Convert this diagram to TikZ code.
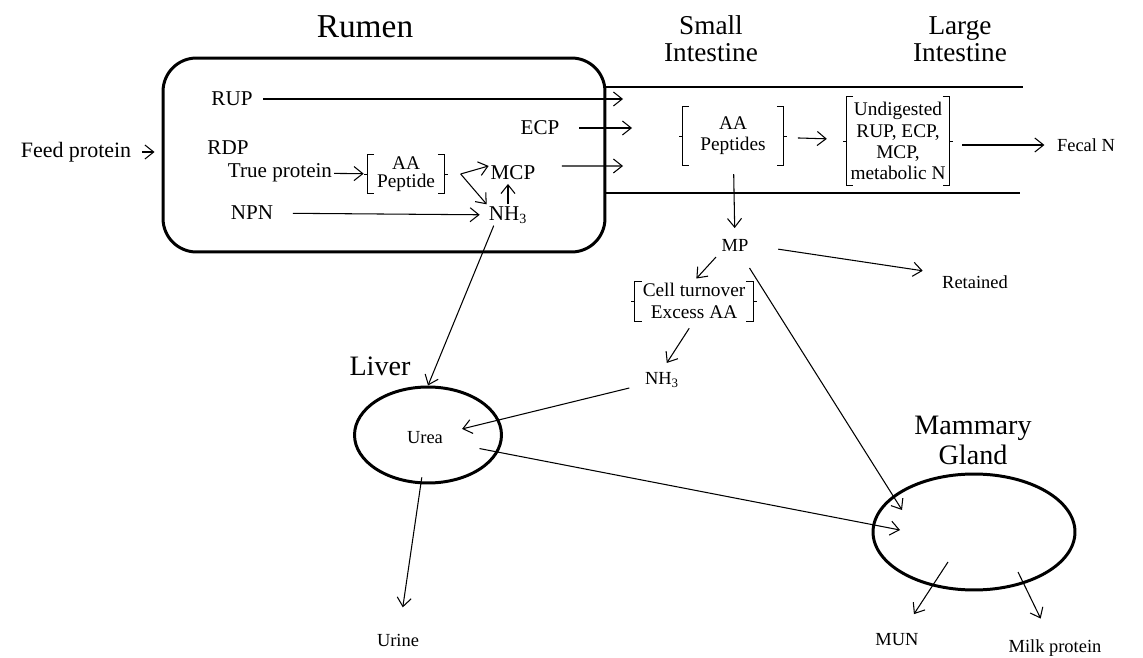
\documentclass[tikz,border=0pt]{standalone}
\usepackage{fontspec}
\setmainfont{Liberation Serif}
\usetikzlibrary{arrows.meta,shapes.geometric}

% square brackets round a node
\newcommand{\bracketsof}[1]{%
  \draw ([xshift=4pt]#1.north west) -- (#1.north west) -- (#1.south west) -- ([xshift=4pt]#1.south west)
        ([xshift=-4pt]#1.north east) -- (#1.north east) -- (#1.south east) -- ([xshift=-4pt]#1.south east)
        (#1.west) -- ++(-2pt,0) (#1.east) -- ++(2pt,0);}

\begin{document}
\begin{tikzpicture}[x=0.02cm,y=-0.02cm,thin,
    >={Straight Barb[length=5pt,width=8pt]},
    every node/.style={inner sep=1pt},
    txt/.style={font=\fontsize{12}{13}\selectfont},
    sm/.style={font=\fontsize{10.5}{12}\selectfont},
    ttl/.style={font=\fontsize{15.5}{15.5}\selectfont,align=center},
    brak/.style={align=center,font=\fontsize{11}{12}\selectfont},
    organ/.style={ellipse,draw,line width=1.7pt},
    con/.style={->,line width=0.6pt}]

    \useasboundingbox (0,0) rectangle (1143,658);

    % Titles
    \node[ttl,font=\fontsize{19}{20}\selectfont] (rumen) at (365,27) {Rumen};
    \node[ttl] (small) at (711,39) {Small\\Intestine};
    \node[ttl] (large) at (960,39) {Large\\Intestine};

    % Rumen
    \node[draw,line width=1.7pt,rounded corners=19pt,minimum width=8.84cm,minimum height=3.88cm] (rumenbox) at (384,155) {};
    \node[txt,font=\fontsize{12.5}{13}\selectfont] (feed) at (76,152) {Feed protein};
    \node[txt] (rup) at (232,99) {RUP};
    \node[txt] (rdp) at (228,148) {RDP};
    \node[txt] (ecp) at (540,128) {ECP};
    \node[txt] (true) at (280,173) {True protein};
    \node[brak,font=\fontsize{11}{10.5}\selectfont,minimum width=1.54cm,minimum height=0.76cm] (aa) at (406,174) {AA\\Peptide};
    \node[txt] (mcp) at (513,173) {MCP};
    \node[txt] (npn) at (252,213) {NPN};
    \node[txt] (nh3) at (508,215) {NH\textsubscript{3}};
    \bracketsof{aa}

    % Intestine walls
    \draw[line width=0.6pt] (605,87) -- (1023,87);
    \draw[line width=0.6pt] (605,193) -- (1020,193);

    % Intestine
    \node[brak,minimum width=2.02cm,minimum height=1.16cm] (aap) at (733,136) {AA\\Peptides};
    \node[brak,minimum width=2.06cm,minimum height=1.76cm] (undig) at (898,141) {Undigested\\RUP, ECP,\\MCP,\\metabolic N};
    \node[sm] (fecal) at (1086,145) {Fecal N};
    \bracketsof{aap}
    \bracketsof{undig}

    % Metabolism
    \node[sm] (mp) at (735,245) {MP};
    \node[brak,font=\fontsize{11}{12.5}\selectfont,minimum width=2.36cm,minimum height=0.76cm] (cell) at (694,301) {Cell turnover\\Excess AA};
    \node[sm] (retained) at (975,282) {Retained};
    \node[sm] (nh3b) at (662,380) {NH\textsubscript{3}};
    \bracketsof{cell}

    % Liver
    \node[ttl,font=\fontsize{16}{17}\selectfont] (liverlab) at (380,366) {Liver};
    \node[organ,minimum width=2.94cm,minimum height=1.92cm] (liver) at (428,435) {};
    \node[sm] (urea) at (425,438) {Urea};
    \node[sm] (urine) at (398,640) {Urine};

    % Mammary gland
    \node[ttl,font=\fontsize{16}{17}\selectfont] (glandlab) at (973,440) {Mammary\\Gland};
    \node[organ,minimum width=4.04cm,minimum height=2.32cm] (gland) at (974,532) {};
    \node[sm] (mun) at (897,640) {MUN};
    \node[sm] (milk) at (1055,648) {Milk protein};

    % Free ends
    \coordinate (rupend) at (623,99);
    \coordinate (ecpend) at (632,128);
    \coordinate (mcpend) at (623,166);
    \coordinate (gin1) at (902,510);
    \coordinate (gin2) at (900,530);
    \coordinate (munout) at (948,562);
    \coordinate (milkout) at (1018,572);

    % Rumen arrows
    \draw[con,shorten <=5pt,shorten >=4pt] (feed) -- (feed -| rumenbox.west);
    \draw[con,shorten <=5pt] (rup) -- (rupend);
    \draw[con,shorten <=10pt] (ecp) -- (ecpend);
    \draw[con,shorten >=2pt] (true) -- (aa);
    \draw[con] ([xshift=9pt]aa.east) -- ([yshift=4pt]mcp.west);
    \draw[con] ([xshift=9pt]aa.east) -- (nh3.north west);
    \draw[con,shorten >=1pt] (nh3.north) -- (nh3.north |- mcp.south);
    \draw[con,shorten <=10pt,shorten >=4pt] (npn) -- (nh3);
    \draw[con,shorten <=14pt] ([yshift=4pt]mcp.east) -- (mcpend);

    % Intestine arrows
    \draw[con,shorten <=8pt,shorten >=11pt] (aap) -- (undig);
    \draw[con,shorten <=7pt,shorten >=6pt] (undig.east |- fecal) -- (fecal);
    \draw[con,shorten <=5pt,shorten >=5pt] (aap) -- (mp);

    % Metabolism arrows
    \draw[con,shorten <=3pt,shorten >=2pt] (mp.south west) -- (cell.north);
    \draw[con,shorten <=16pt,shorten >=10pt] (mp.east) -- (retained.north west);
    \draw[con,shorten <=10pt] (mp) -- (gin1);
    \draw[con,shorten <=5pt,shorten >=5pt] (cell.south) -- (nh3b.north);
    \draw[con,shorten <=8pt,shorten >=10pt] (nh3b) -- (urea);
    \draw[con] ([xshift=4pt]nh3.south west) -- (liver.north);
    \draw[con,shorten <=20pt] (urea) -- (gin2);
    \draw[con,shorten <=-4pt,shorten >=14pt] (liver) -- (urine);
    \draw[con,shorten >=12pt] (munout) -- (mun);
    \draw[con,shorten >=12pt] (milkout) -- (milk);

\end{tikzpicture}
\end{document}
